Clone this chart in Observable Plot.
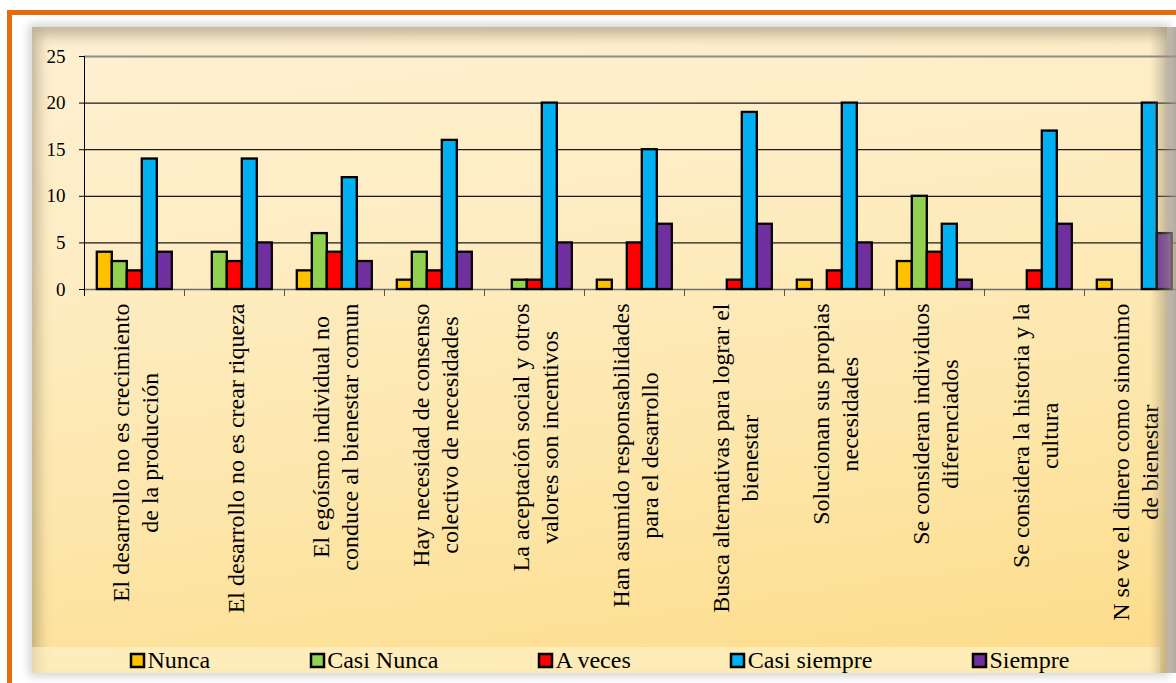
<!DOCTYPE html>
<html><head><meta charset="utf-8">
<script src="https://cdn.jsdelivr.net/npm/d3@7"></script>
<script src="https://cdn.jsdelivr.net/npm/@observablehq/plot@0.6"></script>
<style>
html,body{margin:0;padding:0;width:1176px;height:683px;overflow:hidden;background:#fff;font-family:"Liberation Serif","Times New Roman",serif;}
#border{position:absolute;left:7px;top:10px;width:1250px;height:750px;border-left:5px solid #E46C0A;border-top:5px solid #E46C0A;}
#panel{position:absolute;left:32px;top:27px;width:1135px;height:646px;
  background:linear-gradient(172deg,#FEF1D2 0%,#FEEDC4 30%,#FDE6A9 65%,#FDDC88 100%);
  box-shadow:0 0 9px 3px rgba(0,0,0,0.18), inset 6px 8px 14px 0 rgba(90,80,60,0.38);}
#legband{position:absolute;left:32px;top:647px;width:1128px;height:26px;background:rgba(255,245,215,0.55);}
#chart{position:absolute;left:0;top:0;}
#legend{position:absolute;left:131px;top:647px;}
#rshade{position:absolute;left:1150px;top:27px;width:26px;height:646px;pointer-events:none;
  background:linear-gradient(to right,rgba(150,140,125,0) 0%,rgba(150,140,125,0.45) 60%,rgba(160,150,135,0.8) 100%);}
#legend .lg-swatches{margin:0 !important;min-height:26px !important;font:24px "Liberation Serif","Times New Roman",serif !important;color:#000;display:flex;align-items:center;flex-wrap:nowrap;}
#legend .lg-swatch{margin-right:100.5px !important;margin-left:0 !important;line-height:26px;display:inline-flex;align-items:center;}
#legend .lg-swatch > svg{margin-right:3.5px !important;overflow:visible;}
#legend .lg-swatch rect{stroke:#000;stroke-width:2.5;}
</style></head><body>
<div id="border"></div><div id="panel"></div><div id="legband"></div>
<div id="chart"></div><div id="legend"></div><div id="rshade"></div>
<script>
const categories = [
  "El desarrollo no es crecimiento\nde la producción",
  "El desarrollo no es crear riqueza",
  "El egoísmo individual no\nconduce al bienestar comun",
  "Hay necesidad de consenso\ncolectivo de necesidades",
  "La aceptación social y otros\nvalores son incentivos",
  "Han asumido responsabilidades\npara el desarrollo",
  "Busca alternativas para lograr el\nbienestar",
  "Solucionan sus propias\nnecesidades",
  "Se consideran individuos\ndiferenciados",
  "Se considera la historia y la\ncultura",
  "N se ve el dinero como sinonimo\nde bienestar"
];
const series = ["Nunca","Casi Nunca","A veces","Casi siempre","Siempre"];
const colors = ["#FFC000","#92D050","#FF0000","#00B0F0","#7030A0"];
const nunca       = [4,0,2,1,0,1,0,1,3,0,1];
const casiNunca   = [3,4,6,4,1,0,0,0,10,0,0];
const aVeces      = [2,3,4,2,1,5,1,2,4,2,0];
const casiSiempre = [14,14,12,16,20,15,19,20,7,17,20];
const siempre     = [4,5,3,4,5,7,7,5,1,7,6];
const yTicks = [0,5,10,15,20,25];

const seriesValues = [nunca,casiNunca,aVeces,casiSiempre,siempre];
const rows = [];
categories.forEach((c,i)=>seriesValues.forEach((arr,j)=>rows.push({cat:c, series:series[j], value:arr[i]})));

const W=1176, H=640, plotTop=56, plotBottom=289, plotLeft=83.2, plotRight=1184.4;
const plotH = plotBottom-plotTop;
const ctx = document.createElement("canvas").getContext("2d");
ctx.font = "24px 'Liberation Serif'";
const longest = c => Math.max(...c.split("\n").map(s=>ctx.measureText(s).width));

const labelMarks = categories.map(c => Plot.text([c], {
  fx: d=>d, text: d=>d, frameAnchor:"bottom", rotate:-90,
  textAnchor:"middle", lineAnchor:"middle", lineHeight:1.17,
  fontSize:24, dy: 14 + longest(c)/2, fill:"#000"
}));

const plot = Plot.plot({
  width: W, height: H, marginTop: plotTop, marginBottom: H-plotBottom, marginLeft: plotLeft, marginRight: 0,
  style: {background:"transparent", fontFamily:"'Liberation Serif','Times New Roman',serif", fontSize:"19px", color:"#000", overflow:"hidden"},
  fx: {domain: categories, range:[plotLeft,plotRight], padding:0, axis:null},
  x: {domain: series, paddingInner:0, paddingOuter:0.75, axis:null},
  y: {domain:[0,25]},
  color: {domain: series, range: colors},
  marks: [
    Plot.ruleY([5,10,15,20], {stroke:"#1a1a1a", strokeWidth:1.2}),
    Plot.ruleY([25], {stroke:"#8c8c8c", strokeWidth:2}),
    Plot.ruleY([0], {stroke:"#6e6e6e", strokeWidth:1.5}),
    Plot.barY(rows.filter(d=>d.value>0), {fx:"cat", x:"series", y:"value", fill:"series", stroke:"#000", strokeWidth:2.3}),
    Plot.frame({anchor:"left", insetTop: plotH, insetBottom:-6, stroke:"#555"}),
    Plot.frame({anchor:"left", insetBottom:-6, stroke:"#000", fx: () => categories[0]}),
    Plot.axisY({ticks: yTicks, tickSize:5, tickPadding:14, fontSize:19, label:null, anchor:"left"}),
    ...labelMarks
  ]
});
document.getElementById("chart").append(plot);

const leg = Plot.legend({color:{domain:series, range:colors}, legend:"swatches", swatchSize:13, className:"lg"});
document.getElementById("legend").append(leg);
</script>
</body></html>
